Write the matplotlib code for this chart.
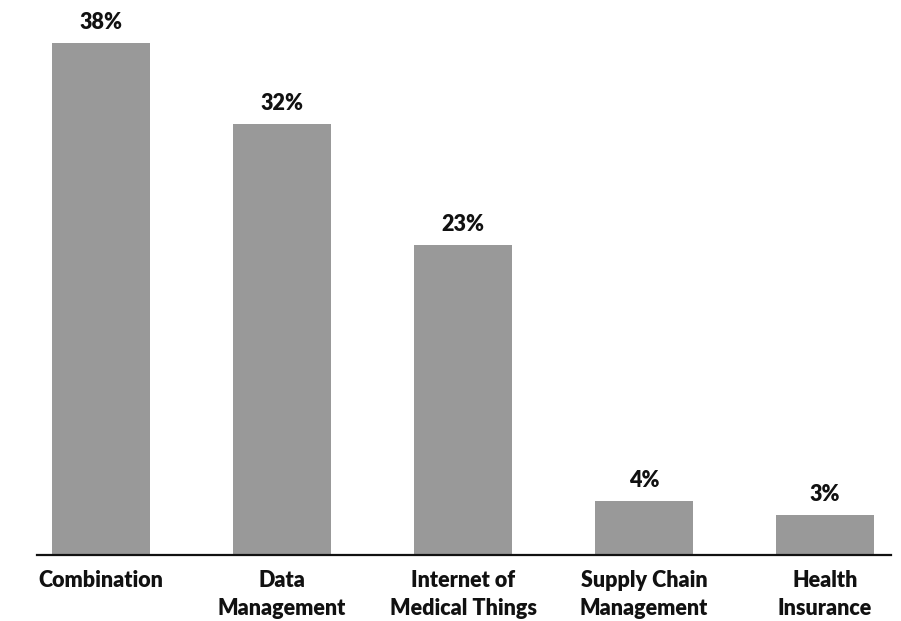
import matplotlib
matplotlib.use("Agg")
import matplotlib.pyplot as plt

categories = ["Combination", "Data\nManagement", "Internet of\nMedical Things",
              "Supply Chain\nManagement", "Health\nInsurance"]
values = [38, 32, 23, 4, 3]
labels = ["38%", "32%", "23%", "4%", "3%"]

plt.rcParams['font.family'] = ['Lato', 'DejaVu Sans']

fig = plt.figure(figsize=(9.01, 6.21), dpi=100)
ax = fig.add_axes([37/901, 66/621, 854/901, 535/621])
x = range(len(values))
bars = ax.bar(x, values, width=0.54, color="#999999", zorder=2)
for b, lab in zip(bars, labels):
    ax.annotate(lab, (b.get_x() + b.get_width()/2, b.get_height()),
                xytext=(0, 7), textcoords="offset points", ha="center", va="bottom",
                fontsize=15.5, fontweight="heavy", color="#111111")
ax.set_xlim(-0.355, 4.365)
ax.set_ylim(0, 535/13.47)
ax.set_xticks(list(x))
ax.set_xticklabels(categories, fontsize=15.5, fontweight="heavy", color="#111111",
                   linespacing=1.4)
ax.tick_params(axis="x", length=0, pad=11)
ax.set_yticks([])
for s in ["top", "right", "left"]:
    ax.spines[s].set_visible(False)
ax.spines["bottom"].set_linewidth(1.6)
ax.spines["bottom"].set_color("#111111")
fig.savefig("out.png", dpi=100)
